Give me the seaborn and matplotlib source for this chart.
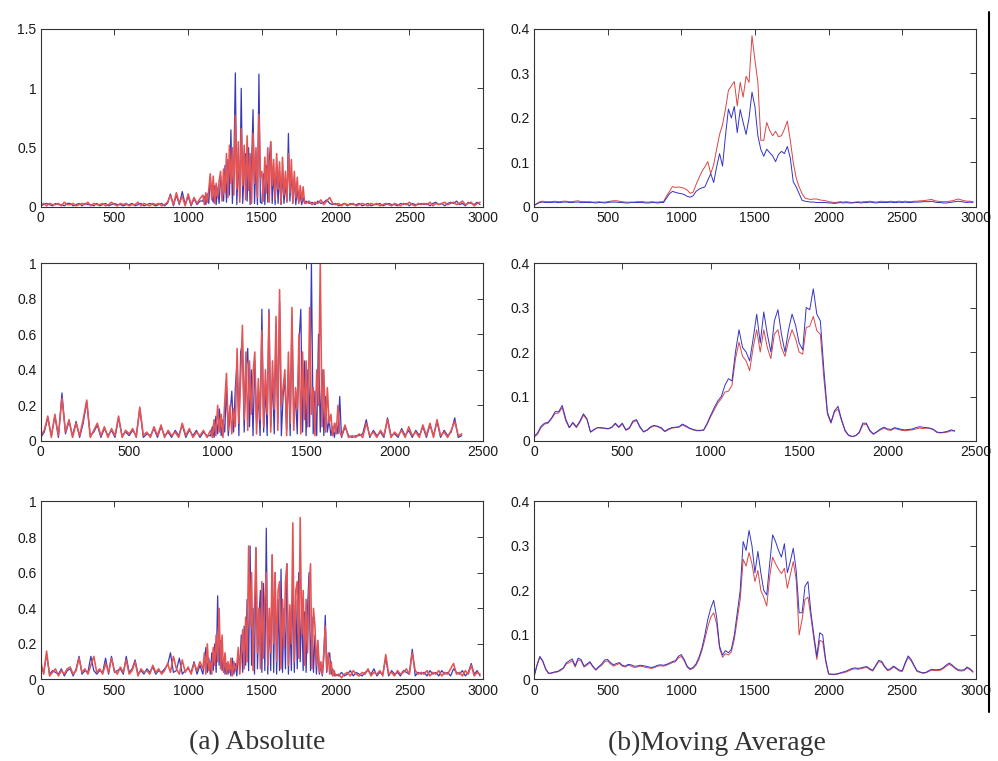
import numpy as np
import seaborn as sns
import matplotlib
matplotlib.use("Agg")
import matplotlib.pyplot as plt
from matplotlib.lines import Line2D

# (a) absolute: quiet parts read every 20 samples, burst every 10 samples
abs1_x = np.concatenate([np.arange(0, 1100, 20), np.arange(1100, 1800, 10), np.arange(1800, 3000, 20)])
abs2_x = np.concatenate([np.arange(0, 960, 20), np.arange(960, 1700, 10), np.arange(1700, 2400, 20)])
abs3_x = np.concatenate([np.arange(0, 1100, 20), np.arange(1100, 2000, 10), np.arange(2000, 3000, 20)])

# values in units of 0.01
abs1_red = [2,3,1,3,2,2,3,1,4,2, 2,3,1,2,3,2,4,1,3,2, 2,3,1,2,4,2,1,3,2,3, 1,2,2,4,1,3,2,1,3,2,
            3,1,2,4,10,2,12,3,9,1, 11,2,8,3,7,
            10,2,12,4,15,28,6,26,3,20, 8,22,30,5,32,12,45,8,52,20, 50,10,77,15,55,4,66,18,52,6,
            60,14,45,3,62,20,50,8,78,25, 30,5,42,12,50,4,55,18,40,6, 45,15,38,3,42,10,30,5,45,12,
            40,4,30,8,25,3,18,5,17,3,
            3,5,2,4,3,6,2,5,8,3, 2,3,1,3,2,2,3,1,2,3, 2,1,3,2,3,1,2,3,2,1, 3,2,1,3,2,4,2,1,3,2,
            3,2,4,1,3,2,3,4,2,3, 4,2,3,5,2,3,4,1,3,4]
abs1_blue = [1,2,3,2,1,3,2,2,1,3, 3,1,2,3,1,3,2,2,1,3, 1,2,3,1,2,3,2,2,1,2, 2,3,1,2,3,1,2,3,2,1,
             2,3,1,3,11,1,10,2,13,2, 9,1,7,2,5,
             5,9,2,11,3,25,10,4,18,2, 16,3,26,12,5,35,4,40,10,65, 3,35,113,2,40,8,100,3,30,45,
             5,50,2,35,82,3,38,2,112,4, 3,28,2,35,4,40,55,3,30,2, 35,3,30,2,28,3,20,4,62,5,
             30,3,25,2,15,4,10,2,8,3,
             5,3,4,2,5,3,4,6,3,2, 3,1,2,3,1,3,2,2,3,1, 2,3,1,2,2,3,1,2,3,2, 2,1,3,2,3,1,3,2,2,3,
             2,3,1,3,4,2,3,1,3,4, 3,5,2,3,1,4,3,2,4,2]

abs2_red = [3,6,14,2,15,3,24,5,12,2, 10,3,12,23,2,6,10,3,8,2, 7,3,14,2,6,4,7,2,19,3,
            5,2,8,3,9,2,6,3,5,2, 10,3,7,2,5,3,6,2,
            6,2,12,3,20,5,15,2,22,38, 6,20,4,18,8,52,10,35,65,12, 50,6,45,15,38,50,4,35,12,62,
            8,40,15,72,5,45,18,70,6,85, 20,30,40,3,50,10,75,6,30,18, 60,4,50,12,45,8,75,15,30,3,
            40,20,100,8,40,5,30,10,15,3, 10,4,20,5,
            3,9,2,3,2, 4,2,10,3,5,2,6,3,12,2, 5,3,6,2,8,3,5,2,9,3, 10,2,12,3,5,2,6,11,3,4]
abs2_blue = [2,5,13,3,14,2,27,4,11,3, 11,2,10,22,3,5,9,2,7,3, 6,2,13,3,5,3,6,3,18,2,
             4,3,7,2,8,3,5,2,6,3, 9,2,6,3,6,2,5,3,
             3,8,2,14,4,18,3,12,5,30, 3,15,28,5,30,45,3,50,55,5, 40,52,8,40,3,45,10,25,3,74,
             5,30,3,74,8,35,4,65,10,78, 3,25,35,6,40,3,70,12,25,4, 56,74,5,45,3,40,8,100,4,28,
             3,60,5,40,3,25,5,12,3,8, 2,10,4,25,
             2,8,3,2,3, 3,4,12,2,6,3,5,2,13,3, 4,2,7,3,6,2,6,3,8,2, 9,3,11,2,6,3,5,13,2,3]

abs3_red = [10,3,16,2,4,6,2,5,3,6, 7,3,5,12,4,6,3,8,13,4, 6,3,9,4,12,5,3,7,4,11,
            3,5,10,2,6,4,5,3,8,4, 6,3,5,9,4,13,6,3,11,4, 7,3,9,5,10,
            6,15,3,20,5,10,3,18,8,25, 10,40,6,25,4,15,3,10,4,12, 2,10,5,8,18,3,15,28,6,35,
            10,75,30,60,5,40,74,15,40,6, 55,12,45,60,8,40,15,70,20,60, 10,50,55,6,45,18,55,65,8,42,
            20,88,10,50,55,12,91,25,50,8, 45,15,50,65,6,40,30,8,22,4, 10,3,15,30,5,15,3,10,2,5,
            2,3,1,3,4,2,5,3,2,4, 3,6,2,4,3,5,2,14,3,4, 2,5,3,4,6,3,15,5,3,4,
            3,5,2,4,3,5,2,4,3,6, 9,3,4,2,5,3,8,2,4,3]
abs3_blue = [8,4,14,3,5,4,3,6,2,5, 6,2,6,13,3,5,4,13,5,3, 5,4,12,3,13,4,5,6,3,13,
             4,6,11,3,5,3,6,4,7,3, 5,4,6,8,15,4,5,12,3,5, 6,4,10,3,8,
             3,10,18,4,12,3,15,5,20,4, 47,8,22,5,12,3,9,3,8,2, 12,3,9,2,15,6,25,4,30,8,
             45,5,75,8,40,3,74,6,35,50, 4,54,5,85,3,35,5,70,4,60, 3,45,5,62,4,40,6,65,3,35,
             5,55,4,45,6,60,10,42,5,38, 4,40,60,5,35,4,25,3,20,3, 8,2,12,36,4,12,15,3,6,2,
             3,2,4,2,3,5,2,4,3,2, 4,5,3,6,2,4,3,12,2,5, 3,4,2,5,4,3,17,2,4,3,
             4,2,5,3,4,2,5,3,4,2, 6,4,3,5,2,4,9,3,5,2]

# (b) moving average, one sample every 20 points, in units of 0.001
MA_STEP = 20
ma1_red = [3,8,12,13,12,12,12,13,12,12, 13,13,12,12,13,14,12,12,12,12, 11,11,12,11,11,12,13,14,14,13,
           12,11,11,11,11,12,12,12,11,11, 12,11,11,12,12,25,35,46,44,45,
           44,42,38,31,33,50,65,80,90,102, 75,95,130,163,185,220,262,272,282,227,
           280,247,294,280,385,330,280,150,150,190, 172,160,170,158,160,175,193,150,100,65,
           45,30,20,18,17,18,18,16,15,14, 12,11,10,11,12,11,12,11,10,11,
           12,11,12,12,13,12,11,12,13,12, 12,13,12,12,13,12,13,12,12,13,
           13,14,14,15,16,17,14,13,12,12, 12,13,14,16,18,16,14,13,13,12]
ma1_blue = [3,7,10,11,10,10,10,11,10,10, 11,11,10,10,11,11,10,10,10,10, 10,9,10,10,9,10,11,11,11,10,
            10,9,9,10,10,10,10,10,9,9, 10,10,9,10,10,20,30,35,33,31,
            30,28,24,22,25,35,40,43,45,60, 75,55,90,120,92,160,220,200,226,167,
            219,190,163,200,258,225,160,129,114,130, 122,115,102,118,125,120,136,110,57,45,
            30,15,13,12,11,11,10,10,10,10, 9,9,8,9,10,9,10,9,9,10,
            10,9,10,10,11,10,9,10,10,10, 10,11,10,10,11,10,11,10,10,11,
            11,11,12,12,12,13,11,10,10,9, 9,10,11,12,13,12,11,10,11,10]

ma2_red = [8,15,30,38,40,50,62,63,75,45, 30,40,30,42,58,48,20,25,30,29, 28,27,30,38,30,38,24,28,42,46,
           30,20,24,30,34,32,28,21,25,29, 30,31,36,32,28,25,23,23,24,38,
           55,70,85,95,110,112,125,185,222,190, 180,158,210,250,200,250,210,185,240,250,
           210,190,225,250,230,200,195,255,258,280, 248,240,140,60,40,65,72,45,22,12,
           10,12,18,36,38,22,15,20,25,29, 25,24,28,26,24,23,24,25,27,29,
           28,29,28,25,19,18,19,20,23,22]
ma2_blue = [10,18,33,40,42,52,66,66,80,50, 30,42,32,45,61,50,20,26,30,30, 29,28,31,40,32,40,25,30,45,48,
            32,21,25,32,35,33,30,22,27,30, 31,32,38,34,29,26,24,24,25,40,
            58,75,90,100,125,140,135,200,250,210, 200,180,230,285,220,290,240,200,270,295,
            240,200,250,285,260,220,205,300,295,342, 285,270,160,65,42,68,78,48,24,13,
            10,12,20,40,40,24,16,21,27,31, 27,26,30,28,26,25,26,27,30,32,
            31,30,29,26,20,19,20,22,25,23]

ma3_red = [5,30,50,40,22,13,14,16,17,20, 25,35,38,42,28,44,42,28,32,38, 28,21,27,32,40,42,35,30,33,36,
           30,28,32,30,27,28,30,29,27,26, 25,27,30,31,30,32,35,38,40,48,
           52,42,28,22,25,32,45,65,90,118, 140,150,125,70,50,58,55,62,90,135,
           180,270,255,285,260,220,245,200,185,165, 230,275,260,248,238,250,205,235,265,225,
           100,135,180,185,140,90,45,88,85,40, 12,11,11,12,14,15,17,20,23,24,
           23,24,26,27,22,19,30,40,38,28, 20,22,28,24,19,18,35,50,42,30,
           18,16,14,15,18,21,20,20,21,25, 30,34,30,24,20,19,20,26,22,16]
ma3_blue = [5,32,52,42,24,14,15,17,18,22, 26,38,42,46,31,48,45,30,35,40, 30,22,29,35,44,45,38,33,36,38,
            32,30,34,33,30,30,32,31,30,28, 27,29,32,33,32,34,37,40,42,52,
            56,45,30,24,27,35,50,70,100,135, 160,178,140,75,55,65,60,68,100,150,
            200,310,290,335,300,240,288,240,200,190, 260,325,310,290,275,305,240,265,295,245,
            150,150,210,220,150,100,52,105,100,45, 13,12,12,13,15,17,19,22,25,26,
            25,26,28,29,24,21,32,43,41,30, 22,24,30,26,21,20,38,53,45,32,
            20,17,15,16,20,23,22,22,23,27, 33,37,32,26,22,21,22,28,24,18]

abs_yticks = [[0, 0.5, 1, 1.5], [0, 0.2, 0.4, 0.6, 0.8, 1], [0, 0.2, 0.4, 0.6, 0.8, 1]]
abs_ylabels = [["0", "0.5", "1", "1.5"], ["0", "0.2", "0.4", "0.6", "0.8", "1"],
               ["0", "0.2", "0.4", "0.6", "0.8", "1"]]
ma_yticks = [0, 0.1, 0.2, 0.3, 0.4]
ma_ylabels = ["0", "0.1", "0.2", "0.3", "0.4"]
x_max = [3000, 2500, 3000]
captions = ["(a) Absolute", "(b)Moving Average"]

sns.set_style("white")
plt.rcParams['font.family'] = ['Liberation Sans', 'DejaVu Sans']

fig = plt.figure(figsize=(9.98, 7.61), dpi=100)
rows = [0.728, 0.4205, 0.1071]
h = 0.2339


def style(ax, xmax, yticks, ylabels):
    ax.set_xlim(0, xmax)
    ax.set_ylim(0, yticks[-1])
    xt = list(range(0, xmax + 1, 500))
    ax.set_xticks(xt)
    ax.set_xticklabels([str(t) for t in xt])
    ax.set_yticks(yticks)
    ax.set_yticklabels(ylabels)
    ax.tick_params(direction='in', length=4, width=0.6, top=True, right=True,
                   labelsize=10, pad=3, colors='#1a1a1a')
    for s in ax.spines.values():
        s.set_visible(True)
        s.set_color('#333333')
        s.set_linewidth(0.8)
    ax.set_xlabel("")
    ax.set_ylabel("")


abs_data = [(abs1_x, abs1_red, abs1_blue), (abs2_x, abs2_red, abs2_blue), (abs3_x, abs3_red, abs3_blue)]
ma_data = [(ma1_red, ma1_blue), (ma2_red, ma2_blue), (ma3_red, ma3_blue)]

for i in range(3):
    ax = fig.add_axes([0.0408, rows[i], 0.4432, h])
    xs = abs_data[i][0]
    red = np.array(abs_data[i][1]) / 100
    blue = np.array(abs_data[i][2]) / 100
    sns.lineplot(x=xs, y=blue, ax=ax, color="#3a3ab8", linewidth=0.9, estimator=None)
    sns.lineplot(x=xs, y=red, ax=ax, color="#e45454", linewidth=1.15, estimator=None)
    style(ax, x_max[i], abs_yticks[i], abs_ylabels[i])

    ax = fig.add_axes([0.535, rows[i], 0.4429, h])
    red = np.array(ma_data[i][0]) / 1000
    blue = np.array(ma_data[i][1]) / 1000
    sns.lineplot(x=np.arange(len(red)) * MA_STEP, y=red, ax=ax, color="#d84646",
                 linewidth=0.7, estimator=None)
    sns.lineplot(x=np.arange(len(blue)) * MA_STEP, y=blue, ax=ax, color="#3434c4",
                 linewidth=0.7, estimator=None)
    style(ax, x_max[i], ma_yticks, ma_ylabels)

fig.text(257 / 998, 1 - 743 / 761, captions[0], ha='center', va='center',
         fontsize=20, family='Liberation Serif', color='#333333')
fig.text(717 / 998, 1 - 743 / 761, captions[1], ha='center', va='center',
         fontsize=20, family='Liberation Serif', color='#333333')

# vertical rule at the right edge of the page
fig.add_artist(Line2D([0.991, 0.991], [1 - 12 / 761, 1 - 712 / 761],
                      transform=fig.transFigure, color='black', linewidth=1.5))

fig.savefig("out.png", dpi=100)
